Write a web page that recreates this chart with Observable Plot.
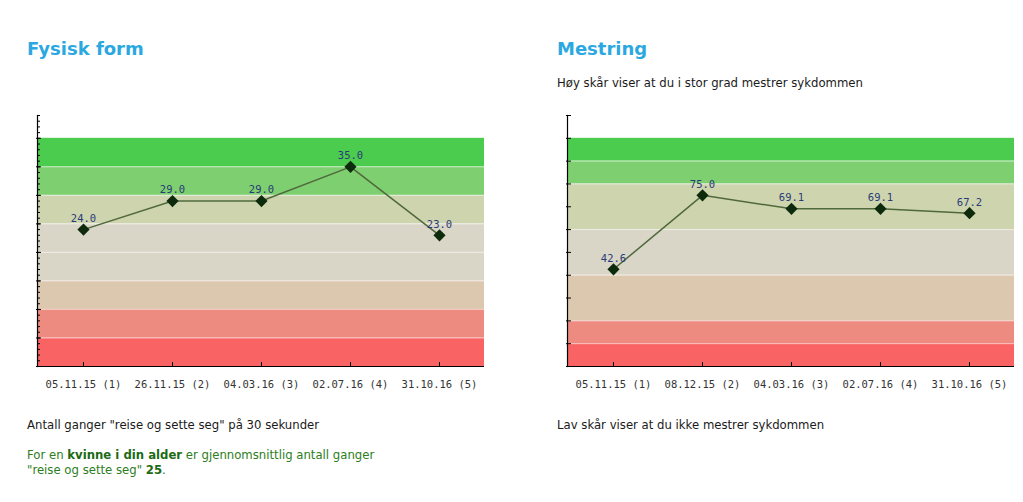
<!DOCTYPE html>
<html>
<head>
<meta charset="utf-8">
<script src="https://cdn.jsdelivr.net/npm/d3@7"></script>
<script src="https://cdn.jsdelivr.net/npm/@observablehq/plot@0.6"></script>
<style>
  html, body { margin: 0; padding: 0; background: #fff; overflow: hidden; width: 1023px; height: 502px; }
  body { position: relative; font-family: "DejaVu Sans", Verdana, sans-serif; color: #1a1a1a; }
  .abs { position: absolute; }
  h2 { margin: 0; font-size: 18px; font-weight: bold; color: #2ba8df; line-height: 22px; }
  .txt { font-size: 11.7px; line-height: 15px; white-space: nowrap; }
  .green { color: #2d7d22; }
  .green b { color: #1d6a14; }
</style>
</head>
<body>
<div class="abs" style="left:27px; top:38px;"><h2>Fysisk form</h2></div>
<div class="abs" style="left:557px; top:38px;"><h2>Mestring</h2></div>
<div class="abs txt" style="left:557px; top:76px;">Høy skår viser at du i stor grad mestrer sykdommen</div>
<div id="left" class="abs" style="left:27px; top:100px;"></div>
<div id="right" class="abs" style="left:557px; top:100px;"></div>
<div class="abs txt" style="left:27px; top:418px;">Antall ganger "reise og sette seg" på 30 sekunder</div>
<div class="abs txt green" style="left:27px; top:448px;">For en <b>kvinne i din alder</b> er gjennomsnittlig antall ganger<br>"reise og sette seg" <b>25</b>.</div>
<div class="abs txt" style="left:557px; top:418px;">Lav skår viser at du ikke mestrer sykdommen</div>
<script>
// ---- data ----
const leftDates = ["05.11.15 (1)", "26.11.15 (2)", "04.03.16 (3)", "02.07.16 (4)", "31.10.16 (5)"];
const leftValues = [24.0, 29.0, 29.0, 35.0, 23.0];
const leftBandEdges = [0, 5, 10, 15, 20, 25, 30, 35, 40];
const leftBandColors = ["#f96363", "#ee8b80", "#dcc8ae", "#d9d6c8", "#d9d6c8", "#cdd4ae", "#7ecf70", "#4ccc4e"];
const leftDomainMax = 44;

const rightDates = ["05.11.15 (1)", "08.12.15 (2)", "04.03.16 (3)", "02.07.16 (4)", "31.10.16 (5)"];
const rightValues = [42.6, 75.0, 69.1, 69.1, 67.2];
const rightBandEdges = [0, 10, 20, 40, 60, 80, 90, 100];
const rightBandColors = ["#f96363", "#ee8b80", "#dcc8ae", "#d9d6c8", "#cdd4ae", "#7ecf70", "#4ccc4e"];
const rightDomainMax = 110;

function chart(dates, values, edges, colors, ymax, minorTicks, majorTicks, width, minorSize, majorSize) {
  const pts = dates.map((d, i) => ({date: d, v: values[i]}));
  const bands = colors.map((c, i) => ({y1: edges[i], y2: edges[i + 1], fill: c}));
  const inner = edges.slice(1, -1);
  const marks = [
    Plot.rect(bands, {y1: "y1", y2: "y2", fill: "fill"}),
    Plot.ruleY(inner, {stroke: "#ffffff", strokeOpacity: 0.55, strokeWidth: 1}),
    Plot.ruleY([0], {stroke: "#000", strokeWidth: 1.2}),
    Plot.frame({anchor: "left", stroke: "#000", strokeWidth: 1.2}),
    Plot.axisX({anchor: "bottom", tickSize: 4, dy: -4, text: null, label: null, stroke: "#000"}),
    Plot.axisX({anchor: "bottom", tickSize: 0, tickPadding: 14, label: null, fontFamily: "DejaVu Sans Mono", fontSize: 10.5, fill: "#333"}),
    Plot.line(pts, {x: "date", y: "v", stroke: "#50693c", strokeWidth: 1.5}),
    Plot.dot(pts, {x: "date", y: "v", symbol: "diamond2", r: 5.5, fill: "#0d2a0d", stroke: "none"}),
    Plot.text(pts, {x: "date", y: "v", text: d => d.v.toFixed(1), dy: -11, fill: "#2b3a78", fontFamily: "DejaVu Sans Mono", fontSize: 10.5})
  ];
  if (minorTicks) marks.push(Plot.axisY({anchor: "left", ticks: minorTicks, tickSize: minorSize, dx: minorSize, text: null, label: null, stroke: "#000"}));
  marks.push(Plot.axisY({anchor: "left", ticks: majorTicks, tickSize: majorSize, dx: majorSize - 1, text: null, label: null, stroke: "#000"}));
  return Plot.plot({
    width: width,
    height: 296,
    marginTop: 15,
    marginBottom: 30,
    marginLeft: 10,
    marginRight: width - 10 - 447,
    style: {background: "transparent", overflow: "visible"},
    x: {type: "point", domain: dates, padding: 0.5, axis: null, label: null},
    y: {domain: [0, ymax], axis: null, label: null},
    color: {type: "identity"},
    marks
  });
}

document.getElementById("left").appendChild(
  chart(leftDates, leftValues, leftBandEdges, leftBandColors, leftDomainMax,
        d3.range(0, leftDomainMax + 1, 1), d3.range(0, leftDomainMax + 1, 5), 470, 3, 5)
);
document.getElementById("right").appendChild(
  chart(rightDates, rightValues, rightBandEdges, rightBandColors, rightDomainMax,
        null, d3.range(0, rightDomainMax + 1, 10), 460, 3, 5)
);
</script>
</body>
</html>
